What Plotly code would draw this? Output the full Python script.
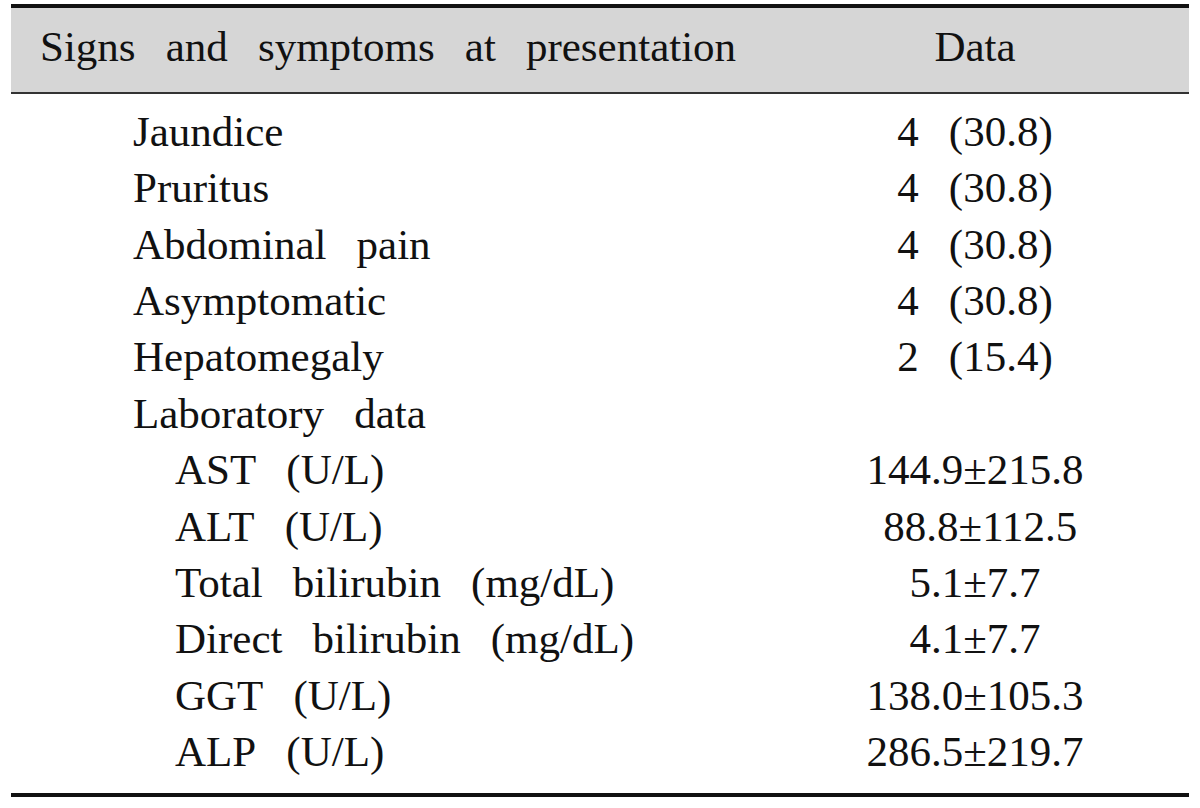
import plotly.graph_objects as go

header = ["Signs and symptoms at presentation", "Data"]
labels = ["Jaundice", "Pruritus", "Abdominal pain", "Asymptomatic", "Hepatomegaly",
          "Laboratory data", "AST (U/L)", "ALT (U/L)", "Total bilirubin (mg/dL)",
          "Direct bilirubin (mg/dL)", "GGT (U/L)", "ALP (U/L)"]
indent = [0, 0, 0, 0, 0, 0, 1, 1, 1, 1, 1, 1]
values = ["4 (30.8)", "4 (30.8)", "4 (30.8)", "4 (30.8)", "2 (15.4)", "",
          "144.9±215.8", "\u00a088.8±112.5", "5.1±7.7", "4.1±7.7", "138.0±105.3", "286.5±219.7"]

W, H = 1200, 808
row0, step = 135, 56.4
ytop = (0 - row0) / step
ybot = (H - row0) / step
header_y = (50 - row0) / step

def spaced(s):
    return s.replace(" ", "\u2009\u00a0 ")

font = dict(family="Liberation Serif, Times New Roman, serif", size=43, color="#111111")

fig = go.Figure()
fig.add_trace(go.Scatter(x=[40], y=[header_y], mode="text", text=[spaced(header[0])],
                         textposition="middle right", textfont=font, hoverinfo="skip"))
fig.add_trace(go.Scatter(x=[975], y=[header_y], mode="text", text=[header[1]],
                         textposition="middle center", textfont=font, hoverinfo="skip"))
rows = list(range(len(labels)))
lx = [133 + 42 * d for d in indent]
fig.add_trace(go.Scatter(x=lx, y=rows, mode="text", text=[spaced(l) for l in labels],
                         textposition="middle right", textfont=font, hoverinfo="skip"))
fig.add_trace(go.Scatter(x=[975] * len(values), y=rows, mode="text",
                         text=[spaced(v) for v in values],
                         textposition="middle center", textfont=font, hoverinfo="skip"))

def py(y):
    return 1 - y / H

shapes = [
    dict(type="rect", xref="x", yref="paper", x0=11, x1=1189, y0=py(8), y1=py(92),
         fillcolor="#d6d6d6", line=dict(width=0), layer="below"),
    dict(type="line", xref="x", yref="paper", x0=11, x1=1189, y0=py(6), y1=py(6),
         line=dict(color="#111111", width=4)),
    dict(type="line", xref="x", yref="paper", x0=11, x1=1189, y0=py(93), y1=py(93),
         line=dict(color="#333333", width=2)),
    dict(type="line", xref="x", yref="paper", x0=11, x1=1189, y0=py(795), y1=py(795),
         line=dict(color="#111111", width=4)),
]

fig.update_layout(
    width=W, height=H, margin=dict(l=0, r=0, t=0, b=0),
    paper_bgcolor="white", plot_bgcolor="white", showlegend=False,
    shapes=shapes, hovermode=False,
    xaxis=dict(range=[0, W], visible=False, fixedrange=True),
    yaxis=dict(range=[ybot, ytop], visible=False, fixedrange=True),
)
fig.write_html("out.html", config={"displayModeBar": False, "staticPlot": True},
               post_script="document.body.style.margin='0';")
